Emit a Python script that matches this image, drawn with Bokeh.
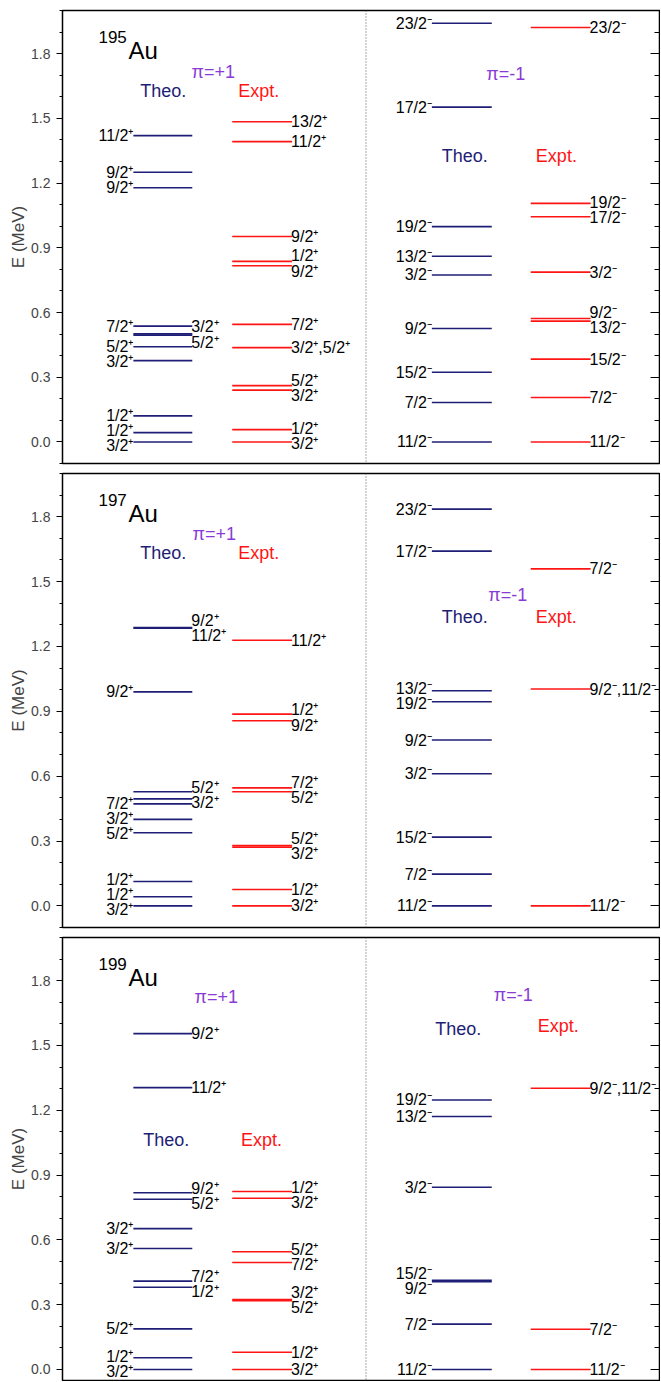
from bokeh.plotting import figure
from bokeh.layouts import column
from bokeh.models import Range1d, LinearAxis, FixedTicker, Span, ColumnDataSource, PrintfTickFormatter
from bokeh.core.properties import value
from bokeh.embed import file_html
from bokeh.resources import INLINE

# ---------------- data (energies in MeV, spin-parity labels) ----------------
isotopes = ["195", "197", "199"]

# 195Au
theo_pos_195_E = [0.0, 0.043, 0.121, 0.377, 0.441, 0.495, 0.501, 0.537, 1.178, 1.25, 1.42]
theo_pos_195_J = ["3/2+", "1/2+", "1/2+", "3/2+", "5/2+", "5/2+", "3/2+", "7/2+", "9/2+", "9/2+", "11/2+"]
theo_pos_195_side = ["L", "L", "L", "L", "L", "R", "R", "L", "L", "L", "L"]
expt_pos_195_E = [0.0, 0.057, 0.24, 0.261, 0.437, 0.545, 0.817, 0.837, 0.952, 1.392, 1.484]
expt_pos_195_J = ["3/2+", "1/2+", "3/2+", "5/2+", "3/2+,5/2+", "7/2+", "9/2+", "1/2+", "9/2+", "11/2+", "13/2+"]
theo_neg_195_E = [0.0, 0.183, 0.323, 0.526, 0.774, 0.861, 0.998, 1.552, 1.941]
theo_neg_195_J = ["11/2-", "7/2-", "15/2-", "9/2-", "3/2-", "13/2-", "19/2-", "17/2-", "23/2-"]
expt_neg_195_E = [0.0, 0.206, 0.384, 0.56, 0.572, 0.787, 1.044, 1.106, 1.921]
expt_neg_195_J = ["11/2-", "7/2-", "15/2-", "13/2-", "9/2-", "3/2-", "17/2-", "19/2-", "23/2-"]

# 197Au
theo_pos_197_E = [0.0, 0.042, 0.113, 0.338, 0.4, 0.472, 0.495, 0.528, 0.99, 1.284, 1.288]
theo_pos_197_J = ["3/2+", "1/2+", "1/2+", "5/2+", "3/2+", "7/2+", "3/2+", "5/2+", "9/2+", "11/2+", "9/2+"]
theo_pos_197_side = ["L", "L", "L", "L", "L", "L", "R", "R", "L", "R", "R"]
expt_pos_197_E = [0.0, 0.076, 0.272, 0.279, 0.528, 0.546, 0.856, 0.887, 1.229]
expt_pos_197_J = ["3/2+", "1/2+", "3/2+", "5/2+", "5/2+", "7/2+", "9/2+", "1/2+", "11/2+"]
theo_neg_197_E = [0.0, 0.147, 0.318, 0.611, 0.767, 0.944, 0.995, 1.641, 1.835]
theo_neg_197_J = ["11/2-", "7/2-", "15/2-", "3/2-", "9/2-", "19/2-", "13/2-", "17/2-", "23/2-"]
expt_neg_197_E = [0.0, 1.003, 1.559]
expt_neg_197_J = ["11/2-", "9/2-,11/2-", "7/2-"]

# 199Au
theo_pos_199_E = [0.0, 0.054, 0.188, 0.381, 0.409, 0.56, 0.652, 0.788, 0.818, 1.305, 1.555]
theo_pos_199_J = ["3/2+", "1/2+", "5/2+", "1/2+", "7/2+", "3/2+", "3/2+", "5/2+", "9/2+", "11/2+", "9/2+"]
theo_pos_199_side = ["L", "L", "L", "R", "R", "L", "L", "R", "R", "R", "R"]
expt_pos_199_E = [0.0, 0.08, 0.318, 0.324, 0.495, 0.545, 0.793, 0.824]
expt_pos_199_J = ["3/2+", "1/2+", "5/2+", "3/2+", "7/2+", "5/2+", "3/2+", "1/2+"]
theo_neg_199_E = [0.0, 0.21, 0.407, 0.413, 0.844, 1.171, 1.248]
theo_neg_199_J = ["11/2-", "7/2-", "9/2-", "15/2-", "3/2-", "13/2-", "19/2-"]
expt_neg_199_E = [0.0, 0.186, 1.302]
expt_neg_199_J = ["11/2-", "7/2-", "9/2-,11/2-"]

y_tick_values = [0.0, 0.3, 0.6, 0.9, 1.2, 1.5, 1.8]
y_minor_values = [round(-0.1 + 0.1 * i, 1) for i in range(22)]

# ---------------- style / layout ----------------
FONT = "Liberation Sans"
THEO_COLOR = "#1e1e76"
EXPT_COLOR = "#ff1414"
PI_COLOR = "#8a3ad6"
LEVEL_W = 1.6
LABEL_SIZE = "16px"
X_RANGE = (0, 598)
THEO_POS_X = (71, 130)
EXPT_POS_X = (170, 230)
THEO_NEG_X = (370, 430)
EXPT_NEG_X = (469, 529)
DIVIDER_X = 304
LABEL_SEP = 0.07
ISO_X = (36, 66)
ISO_Y = (1.876, 1.816)

headers = {
    "195": dict(pi_p=(151, 1.715), th_p=(101, 1.626), ex_p=(196.5, 1.626),
                pi_n=(444, 1.707), th_n=(403, 1.327), ex_n=(494.7, 1.327)),
    "197": dict(pi_p=(152, 1.722), th_p=(101, 1.632), ex_p=(196.5, 1.632),
                pi_n=(446, 1.438), th_n=(403, 1.335), ex_n=(494.5, 1.335)),
    "199": dict(pi_p=(154, 1.726), th_p=(104, 1.061), ex_p=(199.3, 1.061),
                pi_n=(451.5, 1.735), th_n=(396.5, 1.577), ex_n=(496.5, 1.592)),
}

datasets = {
    "195": (theo_pos_195_E, theo_pos_195_J, theo_pos_195_side, expt_pos_195_E, expt_pos_195_J,
            theo_neg_195_E, theo_neg_195_J, expt_neg_195_E, expt_neg_195_J),
    "197": (theo_pos_197_E, theo_pos_197_J, theo_pos_197_side, expt_pos_197_E, expt_pos_197_J,
            theo_neg_197_E, theo_neg_197_J, expt_neg_197_E, expt_neg_197_J),
    "199": (theo_pos_199_E, theo_pos_199_J, theo_pos_199_side, expt_pos_199_E, expt_pos_199_J,
            theo_neg_199_E, theo_neg_199_J, expt_neg_199_E, expt_neg_199_J),
}

panel_geom = {
    "195": dict(y=(-0.1, 2.0), fh=453, top=10, bottom=5),
    "197": dict(y=(-0.1, 2.0), fh=454, top=5, bottom=5),
    "199": dict(y=(-0.051, 2.0), fh=443, top=5, bottom=1),
}


def sup(label):
    parts = []
    for p in label.split(","):
        parts.append(p[:-1] + ("\u207a" if p[-1] == "+" else "\u207b"))
    return ",".join(parts)


def spread(ys, sep):
    idx = sorted(range(len(ys)), key=lambda i: ys[i])
    clusters = []
    for i in idx:
        clusters.append([i])
        while len(clusters) > 1:
            a, b = clusters[-2], clusters[-1]
            ca = sum(ys[j] for j in a) / len(a)
            cb = sum(ys[j] for j in b) / len(b)
            if (cb - (len(b) - 1) / 2 * sep) - (ca + (len(a) - 1) / 2 * sep) < sep:
                clusters[-2] = a + b
                clusters.pop()
            else:
                break
    pos = [0.0] * len(ys)
    for c in clusters:
        m = sum(ys[j] for j in c) / len(c)
        for k, j in enumerate(c):
            pos[j] = m + (k - (len(c) - 1) / 2) * sep
    return pos


def text_kw(size, color):
    return dict(text_font=value(FONT), text_font_size=size, text_color=color)


def draw_group(p, E, J, xs, color, sides):
    n = len(E)
    src = ColumnDataSource(dict(x0=[xs[0]] * n, x1=[xs[1]] * n, y=E))
    p.segment(x0="x0", y0="y", x1="x1", y1="y", source=src, line_color=color, line_width=LEVEL_W)
    for side in ("L", "R"):
        idx = [i for i in range(n) if sides[i] == side]
        if not idx:
            continue
        ly = spread([E[i] for i in idx], LABEL_SEP)
        texts = [sup(J[i]) for i in idx]
        if side == "L":
            p.text(x=[xs[0]] * len(idx), y=ly, text=texts, text_align="right", text_baseline="middle",
                   **text_kw(LABEL_SIZE, "black"))
        else:
            p.text(x=[xs[1]] * len(idx), y=ly, text=texts, text_align="left", text_baseline="middle",
                   x_offset=-1, **text_kw(LABEL_SIZE, "black"))


def make_panel(iso):
    g = panel_geom[iso]
    p = figure(frame_width=597, frame_height=g["fh"], min_border_left=62, min_border_right=1,
               min_border_top=g["top"], min_border_bottom=g["bottom"],
               x_range=Range1d(*X_RANGE), y_range=Range1d(*g["y"]),
               x_axis_location=None, output_backend="svg", toolbar_location=None,
               background_fill_color="white", border_fill_color="white")
    p.grid.visible = False
    p.outline_line_color = "black"
    p.outline_line_width = 1.5
    p.outline_line_alpha = 1.0

    ax = p.yaxis[0]
    ax.ticker = FixedTicker(ticks=y_tick_values, minor_ticks=y_minor_values)
    ax.formatter = PrintfTickFormatter(format="%.1f")
    ax.axis_label = "E (MeV)"
    ax.axis_label_text_font = FONT
    ax.axis_label_text_font_size = "17px"
    ax.axis_label_text_font_style = "normal"
    ax.axis_label_standoff = 0
    ax.major_label_text_font = FONT
    ax.major_label_text_font_size = "14px"
    ax.major_label_standoff = 6
    ax.major_tick_out = 6
    ax.major_tick_in = 0
    ax.minor_tick_out = 3
    ax.minor_tick_in = 0
    ax.axis_line_color = "black"

    rax = LinearAxis(ticker=FixedTicker(ticks=y_tick_values, minor_ticks=y_minor_values),
                     major_label_overrides={t: "" for t in y_tick_values},
                     major_label_standoff=0,
                     major_tick_in=9, major_tick_out=0, minor_tick_in=5, minor_tick_out=0,
                     axis_line_color=None, major_tick_line_color="black", minor_tick_line_color="black")
    p.add_layout(rax, "right")

    p.add_layout(Span(location=DIVIDER_X, dimension="height", line_color="#555555",
                      line_dash="1 2", line_width=1))

    tp_E, tp_J, tp_S, ep_E, ep_J, tn_E, tn_J, en_E, en_J = datasets[iso]
    draw_group(p, tp_E, tp_J, THEO_POS_X, THEO_COLOR, tp_S)
    draw_group(p, ep_E, ep_J, EXPT_POS_X, EXPT_COLOR, ["R"] * len(ep_E))
    draw_group(p, tn_E, tn_J, THEO_NEG_X, THEO_COLOR, ["L"] * len(tn_E))
    draw_group(p, en_E, en_J, EXPT_NEG_X, EXPT_COLOR, ["R"] * len(en_E))

    h = headers[iso]
    # isotope label: mass number as a raised, smaller text before the symbol
    p.text(x=[ISO_X[0]], y=[ISO_Y[0]], text=[iso], text_align="left", text_baseline="middle",
           **text_kw("17px", "black"))
    p.text(x=[ISO_X[1]], y=[ISO_Y[1]], text=["Au"], text_align="left", text_baseline="middle",
           **text_kw("24px", "black"))
    for key, txt, col in (("pi_p", "\u03c0=+1", PI_COLOR), ("th_p", "Theo.", THEO_COLOR),
                          ("ex_p", "Expt.", EXPT_COLOR), ("pi_n", "\u03c0=-1", PI_COLOR),
                          ("th_n", "Theo.", THEO_COLOR), ("ex_n", "Expt.", EXPT_COLOR)):
        x, y = h[key]
        p.text(x=[x], y=[y], text=[txt], text_align="center", text_baseline="middle",
               **text_kw("18px", col))
    return p


panels = [make_panel(iso) for iso in isotopes]
layout = column(*panels, spacing=0)

open("out.html", "w").write(file_html(layout, INLINE))
